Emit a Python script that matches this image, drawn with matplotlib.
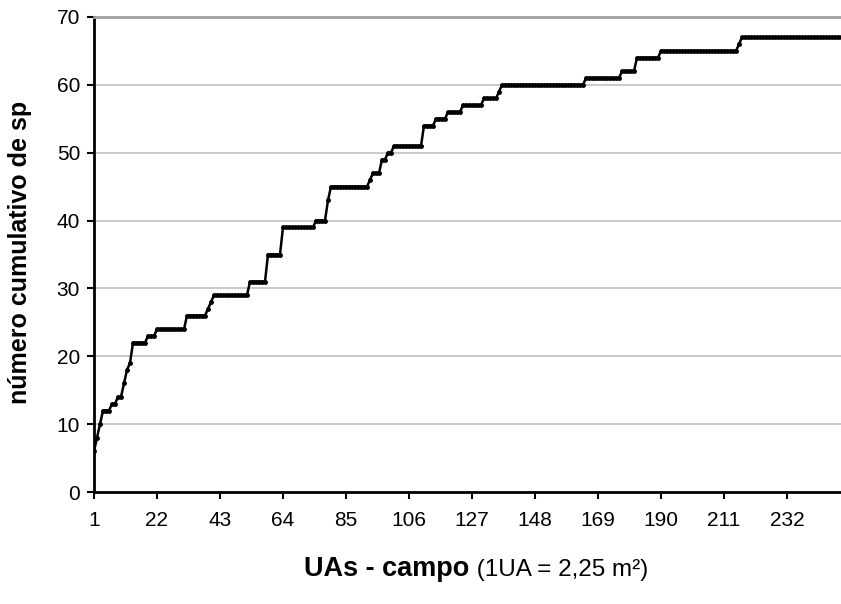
import matplotlib
matplotlib.use("Agg")
import matplotlib.pyplot as plt
import numpy as np

plt.rcParams['font.family'] = ['Liberation Sans', 'DejaVu Sans']

# cumulative number of species per sampling unit (UA 1..250)
especies = [
    6, 8, 10, 12, 12, 12, 13, 13, 14, 14, 16, 18, 19, 22, 22, 22, 22, 22, 23, 23,
    23, 24, 24, 24, 24, 24, 24, 24, 24, 24, 24, 26, 26, 26, 26, 26, 26, 26, 27, 28,
    29, 29, 29, 29, 29, 29, 29, 29, 29, 29, 29, 29, 31, 31, 31, 31, 31, 31, 35, 35,
    35, 35, 35, 39, 39, 39, 39, 39, 39, 39, 39, 39, 39, 39, 40, 40, 40, 40, 43, 45,
    45, 45, 45, 45, 45, 45, 45, 45, 45, 45, 45, 45, 46, 47, 47, 47, 49, 49, 50, 50,
    51, 51, 51, 51, 51, 51, 51, 51, 51, 51, 54, 54, 54, 54, 55, 55, 55, 55, 56, 56,
    56, 56, 56, 57, 57, 57, 57, 57, 57, 57, 58, 58, 58, 58, 58, 59, 60, 60, 60, 60,
    60, 60, 60, 60, 60, 60, 60, 60, 60, 60, 60, 60, 60, 60, 60, 60, 60, 60, 60, 60,
    60, 60, 60, 60, 61, 61, 61, 61, 61, 61, 61, 61, 61, 61, 61, 61, 62, 62, 62, 62,
    62, 64, 64, 64, 64, 64, 64, 64, 64, 65, 65, 65, 65, 65, 65, 65, 65, 65, 65, 65,
    65, 65, 65, 65, 65, 65, 65, 65, 65, 65, 65, 65, 65, 65, 65, 66, 67, 67, 67, 67,
    67, 67, 67, 67, 67, 67, 67, 67, 67, 67, 67, 67, 67, 67, 67, 67, 67, 67, 67, 67,
    67, 67, 67, 67, 67, 67, 67, 67, 67, 67,
]
uas = np.arange(1, len(especies) + 1)
xticks = [1, 22, 43, 64, 85, 106, 127, 148, 169, 190, 211, 232]
yticks = [0, 10, 20, 30, 40, 50, 60, 70]

fig = plt.figure(figsize=(8.41, 6.04), dpi=100)
ax = fig.add_axes([94 / 841, 1 - 492 / 604, 747 / 841, 475 / 604])

ax.plot(uas, especies, color='black', lw=1.8, marker='o', ms=2.5,
        mfc='black', mec='black', zorder=3)

ax.set_xlim(1, len(especies))
ax.set_ylim(0, 70)
ax.set_xticks(xticks)
ax.set_yticks(yticks)
ax.tick_params(axis='both', direction='out', length=5, width=1.5,
               labelsize=15, color='black')
ax.tick_params(axis='x', pad=9)
ax.tick_params(axis='y', pad=5)

ax.yaxis.grid(True, color='#c0c0c0', lw=1.2)
ax.set_axisbelow(True)
for s in ['left', 'bottom']:
    ax.spines[s].set_linewidth(2)
    ax.spines[s].set_color('black')
ax.spines['right'].set_visible(False)
ax.spines['top'].set_color('#a0a0a0')
ax.spines['top'].set_linewidth(2)

ax.set_ylabel('número cumulativo de sp', fontsize=18, fontweight='bold')
ax.yaxis.set_label_coords(-0.083, 0.505)

# x label: bold part + normal part
fig.canvas.draw()
r = fig.canvas.get_renderer()
t1 = fig.text(0, 0, 'UAs - campo', fontsize=19.5, fontweight='bold',
              ha='left', va='baseline')
t2 = fig.text(0, 0, ' (1UA = 2,25 m²)', fontsize=17.5,
              ha='left', va='baseline')
w1 = t1.get_window_extent(r).width
w2 = t2.get_window_extent(r).width
x0 = 476 - (w1 + w2) / 2
t1.set_position((x0 / 841, 1 - 576 / 604))
t2.set_position(((x0 + w1) / 841, 1 - 576 / 604))

fig.savefig('out.png', dpi=100)
